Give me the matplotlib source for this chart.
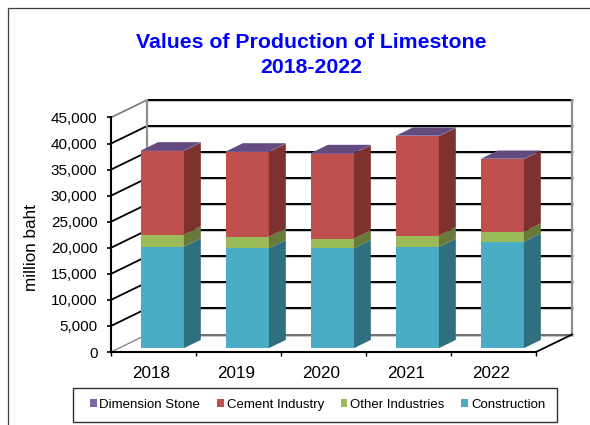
import matplotlib
matplotlib.use("Agg")
import matplotlib.pyplot as plt
from matplotlib.patches import Patch, Rectangle

years = ["2018", "2019", "2020", "2021", "2022"]
construction = [19480, 19170, 19170, 19420, 20440]
other_industries = [2310, 2230, 1850, 2180, 1930]
cement_industry = [16050, 16250, 16320, 19070, 13880]
dimension_stone = [100, 100, 100, 100, 100]
series_names = ["Construction", "Other Industries", "Cement Industry", "Dimension Stone"]
series_values = [construction, other_industries, cement_industry, dimension_stone]
front_colors = ["#4BACC6", "#9BBB59", "#C0504D", "#8064A2"]
side_colors = ["#306F80", "#677A3A", "#7D3230", "#553F70"]
top_color = "#634B80"

plt.rcParams["font.family"] = ["Liberation Sans", "DejaVu Sans"]
W, H = 590, 425
fig = plt.figure(figsize=(W / 100, H / 100), dpi=100)
fig.patches.append(Rectangle((7.5 / W, -0.02), 600 / W, 1.02 - 8 / H, transform=fig.transFigure,
                             fc="none", ec="#404040", lw=0.9))

# front plane of the pseudo-3D box
L, R, B, T = 111, 536, 352, 117.5
ax = fig.add_axes([L / W, 1 - B / H, (R - L) / W, (B - T) / H])
ymax = 45000
ax.set_xlim(0, 5)
ax.set_ylim(0, ymax)
ax.patch.set_alpha(0)
for s in ax.spines.values():
    s.set_visible(False)

ux = (R - L) / 5            # px per category
uy = (B - T) / ymax         # px per unit
DX, DY = 36, 17.5           # box depth in px


def proj(x, v, d):
    """category x, value v, depth fraction d -> data coordinates"""
    return x + d * DX / ux, v + d * DY / uy


def line(p, q, color, lw, z=1):
    ax.plot([p[0], q[0]], [p[1], q[1]], color=color, lw=lw, clip_on=False,
            solid_capstyle="projecting", zorder=z)


ticks = list(range(0, ymax + 1, 5000))
for v in ticks:
    col = "#707070" if v == 0 else "black"
    line(proj(0, v, 1), proj(5, v, 1), "#c8c8c8", 2.2, 1)
    line(proj(0, v, 1), proj(5, v, 1), col, 1.4, 1.1)
    sc = "#808080" if v in (0, ymax) else "black"
    line(proj(0, v, 0), proj(0, v, 1), sc, 0.9 if v == 0 else 1.3, 1.1)
line(proj(0, 0, 1), proj(0, ymax, 1), "#909090", 1.6, 1.2)
line(proj(5, 0, 1), proj(5, ymax, 1), "#909090", 1.6, 1.2)
line(proj(5, 0, 0), proj(5, 0, 1), "black", 1.3, 1.2)
line(proj(0, 0, 0), proj(5, 0, 0), "black", 1.5, 1.2)
line(proj(0, 0, 0), proj(0, ymax, 0), "black", 1.5, 1.2)

# bars
bw = 0.505
off = 0.22
dep = 0.47
shift = 0.012
for i in range(len(years)):
    x0 = i + (1 - bw) / 2 + shift
    x1 = x0 + bw
    base = 0
    for vals, fc, sc in zip(series_values, front_colors, side_colors):
        top = base + vals[i]
        a = proj(x0, base, off); b = proj(x1, base, off)
        c = proj(x1, top, off); d = proj(x0, top, off)
        e = proj(x1, base, off + dep); f = proj(x1, top, off + dep)
        ax.fill([a[0], b[0], c[0], d[0]], [a[1], b[1], c[1], d[1]], fc=fc, ec="none", zorder=3, clip_on=False)
        ax.fill([b[0], e[0], f[0], c[0]], [b[1], e[1], f[1], c[1]], fc=sc, ec="none", zorder=3, clip_on=False)
        base = top
    d = proj(x0, base, off); c = proj(x1, base, off)
    f = proj(x1, base, off + dep); g = proj(x0, base, off + dep)
    ax.fill([d[0], c[0], f[0], g[0]], [d[1], c[1], f[1], g[1]], fc=top_color, ec="none", zorder=3.1, clip_on=False)

ax.set_yticks(ticks)
ax.set_yticklabels([f"{v:,}" for v in ticks])
ax.set_xticks(range(6))
ax.set_xticklabels([])
ax.set_xticks([i + 0.5 - 2.5 / ux for i in range(5)], minor=True)
ax.set_xticklabels(years, minor=True)
ax.tick_params(axis="x", which="major", length=3, width=1.0, color="black")
ax.tick_params(axis="x", which="minor", length=0, labelsize=12.3, pad=10)
ax.tick_params(axis="y", length=3, width=1.2, labelsize=11, pad=6.7)

fig.text(31 / W, 1 - 248 / H, "million baht", rotation=90, ha="center", va="center", fontsize=12.3)

fig.text(311 / W, 1 - 55 / H, "Values of Production of Limestone\n2018-2022", ha="center", va="center",
         color="#0000FF", fontsize=15.35, fontweight="bold", linespacing=1.42)

fig.patches.append(Rectangle((73 / W, 1 - 422 / H), 484 / W, 34 / H, transform=fig.transFigure,
                             fc="white", ec="#303030", lw=1.0, zorder=2))
handles = [Patch(fc=front_colors[i], ec="none") for i in (3, 2, 1, 0)]
labels = [series_names[i] for i in (3, 2, 1, 0)]
leg = fig.legend(handles, labels, ncol=4, loc="center", bbox_to_anchor=(317.5 / W, 1 - 405 / H),
                 fontsize=9.5, frameon=False,
                 handlelength=0.52, handleheight=0.52, handletextpad=0.22, columnspacing=1.26,
                 borderpad=0, borderaxespad=0)

fig.savefig("out.png", dpi=100)
